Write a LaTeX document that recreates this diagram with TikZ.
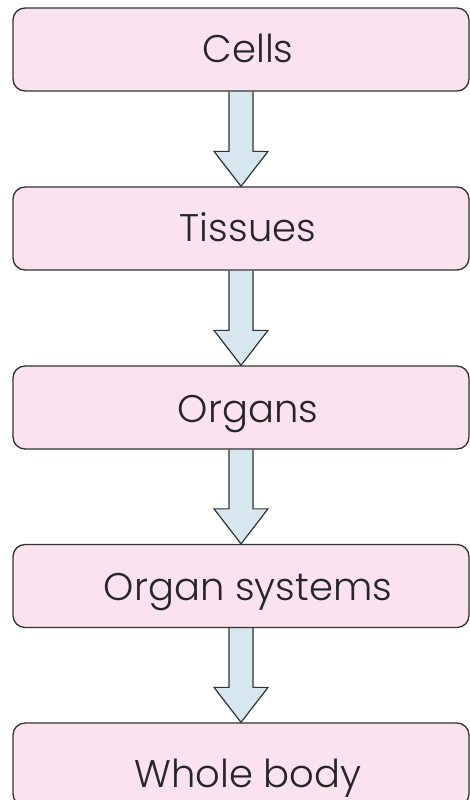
\documentclass[tikz,border=0pt]{standalone}
\usepackage{fontspec}
\setmainfont{Poppins}[UprightFont={* Light}]
\usetikzlibrary{calc,backgrounds}
\definecolor{boxpink}{RGB}{250,226,238}
\definecolor{arrowblue}{RGB}{214,231,240}
\definecolor{edgegray}{RGB}{50,50,50}
\begin{document}
\begin{tikzpicture}[x=1pt,y=1pt,
  levelbox/.style={draw=edgegray, fill=boxpink, line width=1.3pt, rounded corners=12pt,
    minimum width=456pt, minimum height=83pt, inner sep=0pt},
  lbl/.style={anchor=base, inner sep=0pt, font=\fontsize{38.5}{46}\selectfont, text=black!85},
  flowarrow/.style={draw=edgegray, fill=arrowblue, line width=1.2pt, line join=miter}]
\useasboundingbox (0,0) rectangle (470,-800);
\clip (0,0) rectangle (470,-800);
\node[levelbox] (cells) at (241,-49.5) {};
\node[levelbox] (tissues) at (241,-228.5) {};
\node[levelbox] (organs) at (241,-407.5) {};
\node[levelbox] (systems) at (241,-586) {};
\node[levelbox] (body) at (241,-764.5) {};
\node[lbl] (cellsL) at (248,-63) {Cells};
\node[lbl] (tissuesL) at (248,-241) {Tissues};
\node[lbl] (organsL) at (248,-422) {Organs};
\node[lbl] (systemsL) at (248,-600) {Organ systems};
\node[lbl] (bodyL) at (248,-787) {Whole body};
\begin{scope}[on background layer]
\foreach \a/\b in {cells/tissues, tissues/organs, organs/systems, systems/body}{
  \draw[flowarrow] ($(\a.south)+(-12,0)$) -- ($(\b.north)+(-12,35)$) -- ($(\b.north)+(-27,35)$)
    -- (\b.north) -- ($(\b.north)+(27,35)$) -- ($(\b.north)+(12,35)$) -- ($(\a.south)+(12,0)$);
}
\end{scope}
\end{tikzpicture}
\end{document}
